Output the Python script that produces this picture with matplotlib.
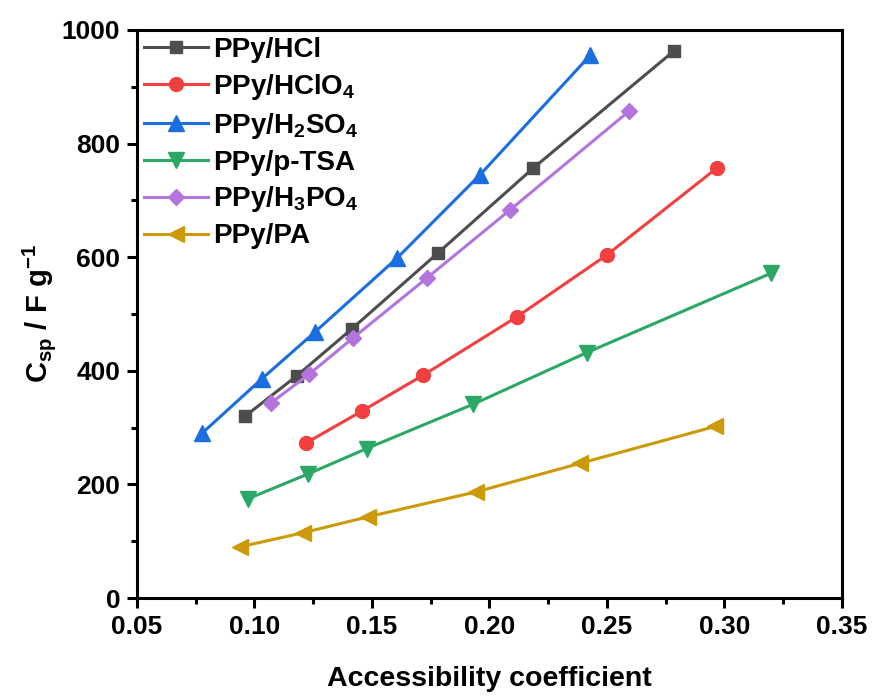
import matplotlib
matplotlib.use('Agg')
import matplotlib.pyplot as plt
from matplotlib.ticker import MultipleLocator, FormatStrFormatter

plt.rcParams['font.family'] = ['Liberation Sans', 'DejaVu Sans']
plt.rcParams['font.weight'] = 'bold'
plt.rcParams['mathtext.fontset'] = 'custom'
plt.rcParams['mathtext.rm'] = 'Liberation Sans:bold'
plt.rcParams['mathtext.bf'] = 'Liberation Sans:bold'
plt.rcParams['mathtext.default'] = 'bf'

# data
hcl_x = [0.096, 0.118, 0.1415, 0.178, 0.2187, 0.2785]
hcl_y = [320, 391, 474, 607, 757, 963]

hclo4_x = [0.122, 0.1457, 0.1717, 0.2117, 0.250, 0.2968]
hclo4_y = [273, 329, 392, 495, 604, 757]

h2so4_x = [0.0777, 0.1032, 0.1257, 0.1606, 0.196, 0.243]
h2so4_y = [290, 386, 468, 598, 745, 956]

ptsa_x = [0.0974, 0.1226, 0.1477, 0.193, 0.2414, 0.320]
ptsa_y = [175, 218, 263, 341, 432, 572]

h3po4_x = [0.1069, 0.1233, 0.142, 0.1733, 0.2087, 0.2594]
h3po4_y = [343, 394, 458, 563, 683, 857]

pa_x = [0.0938, 0.1208, 0.1484, 0.1945, 0.2385, 0.296]
pa_y = [90, 115, 143, 187, 237, 302]

series = [
    ('PPy/HCl', hcl_x, hcl_y, '#4d4d4d', 's', 9),
    ('PPy/HClO$_4$', hclo4_x, hclo4_y, '#f23f3f', 'o', 10),
    ('PPy/H$_2$SO$_4$', h2so4_x, h2so4_y, '#1a6ee0', '^', 11),
    ('PPy/p-TSA', ptsa_x, ptsa_y, '#2ba866', 'v', 11),
    ('PPy/H$_3$PO$_4$', h3po4_x, h3po4_y, '#b474de', 'D', 8),
    ('PPy/PA', pa_x, pa_y, '#cc9a06', '<', 11),
]

fig = plt.figure(figsize=(8.72, 6.97), dpi=100)
ax = fig.add_axes([0.157, 0.142, 0.8085, 0.815])

for label, xs, ys, color, marker, ms in series:
    ax.plot(xs, ys, color=color, marker=marker, markersize=ms, linewidth=2.2,
            label=label)

ax.set_xlim(0.05, 0.35)
ax.set_ylim(0, 1000)
ax.xaxis.set_major_locator(MultipleLocator(0.05))
ax.xaxis.set_minor_locator(MultipleLocator(0.025))
ax.yaxis.set_major_locator(MultipleLocator(200))
ax.yaxis.set_minor_locator(MultipleLocator(100))
ax.xaxis.set_major_formatter(FormatStrFormatter('%.2f'))

for sp in ax.spines.values():
    sp.set_linewidth(2.2)
ax.tick_params(which='major', direction='out', length=7, width=2.2,
               labelsize=19, pad=5)
ax.tick_params(which='minor', direction='out', length=4, width=2.2)

for t in ax.get_xticklabels() + ax.get_yticklabels():
    t.set_fontweight('bold')

ax.set_xlabel('Accessibility coefficient', fontsize=20.5, fontweight='bold',
              labelpad=20)
ax.set_ylabel('C$_{sp}$ / F g$^{-1}$', fontsize=21, fontweight='bold',
              labelpad=3)

ax.legend(loc='upper left', frameon=False, handlelength=2.3,
          handletextpad=0.2, labelspacing=0.32, borderaxespad=0.15,
          borderpad=0.1, prop={'weight': 'bold', 'size': 20})

fig.savefig('out.png', dpi=100)
